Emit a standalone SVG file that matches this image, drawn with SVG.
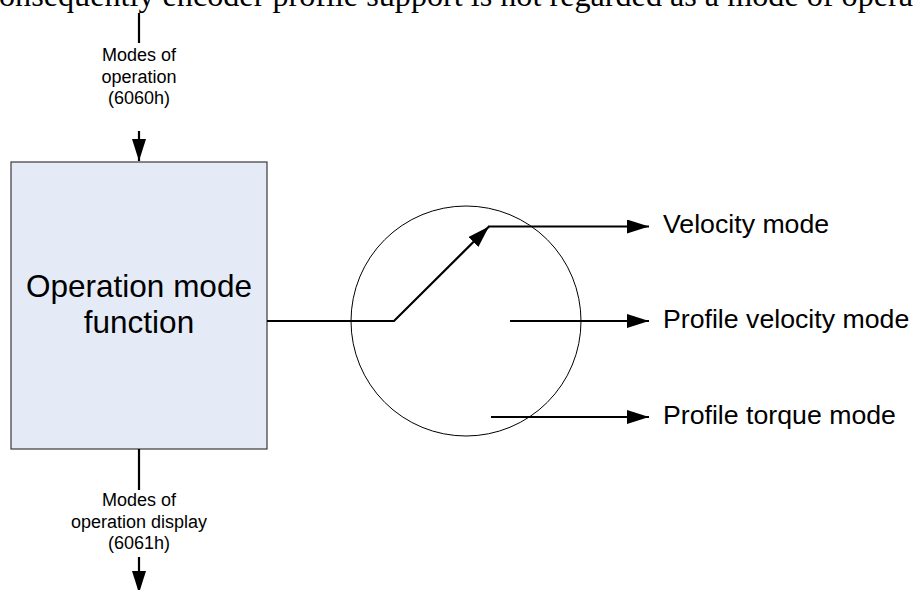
<svg xmlns="http://www.w3.org/2000/svg" width="913" height="590" viewBox="0 0 913 590">
  <style>
    .conn { stroke: #000; stroke-width: 2.2; fill: none; }
    .lbl { font-family: "Liberation Sans", Arial, sans-serif; fill: #000; }
    .small { font-size: 18px; text-anchor: middle; }
    .mode { font-size: 26.7px; }
    .big { font-size: 31.5px; text-anchor: middle; }
  </style>
  <defs>
    <marker id="arrow" markerUnits="userSpaceOnUse" markerWidth="24" markerHeight="16" refX="22" refY="7" orient="auto">
      <path d="M0,0 L22,7 L0,14 Z" fill="#000"/>
    </marker>
  </defs>
  <rect width="913" height="590" fill="#fff"/>

  <text x="-1" y="6" font-family="'Liberation Serif', 'Times New Roman', serif" font-size="32" textLength="914" lengthAdjust="spacingAndGlyphs">onsequently encoder profile support is not regarded as a mode of opera</text>

  <g id="node-operation-mode-function">
    <rect x="11" y="162" width="256" height="287" fill="#E5EBF6" stroke="#3a3a3a" stroke-width="1.2"/>
    <text class="lbl big" x="139" y="297">Operation mode</text>
    <text class="lbl big" x="139" y="333">function</text>
  </g>

  <g id="node-switch">
    <circle cx="466" cy="321" r="115" fill="none" stroke="#000" stroke-width="1"/>
  </g>

  <g id="node-velocity-mode">
    <text class="lbl mode" x="663" y="233">Velocity mode</text>
  </g>
  <g id="node-profile-velocity-mode">
    <text class="lbl mode" x="663" y="328">Profile velocity mode</text>
  </g>
  <g id="node-profile-torque-mode">
    <text class="lbl mode" x="663" y="424">Profile torque mode</text>
  </g>

  <g id="connectors">
    <line class="conn" x1="139" y1="13" x2="139" y2="43"/>
    <line class="conn" x1="139" y1="131" x2="139" y2="161" marker-end="url(#arrow)"/>
    <line class="conn" x1="139" y1="449" x2="139" y2="490"/>
    <line class="conn" x1="139" y1="557" x2="139" y2="593" marker-end="url(#arrow)"/>
    <polyline class="conn" points="267,321 394,321 489,226.5" marker-end="url(#arrow)"/>
    <line class="conn" x1="488" y1="226.5" x2="649" y2="226.5" marker-end="url(#arrow)"/>
    <line class="conn" x1="510" y1="321" x2="649" y2="321" marker-end="url(#arrow)"/>
    <line class="conn" x1="491" y1="417" x2="649" y2="417" marker-end="url(#arrow)"/>
  </g>

  <g id="label-modes-of-operation">
    <text class="lbl small" x="139" y="61">Modes of</text>
    <text class="lbl small" x="139" y="82.5">operation</text>
    <text class="lbl small" x="139" y="104">(6060h)</text>
  </g>
  <g id="label-modes-of-operation-display">
    <text class="lbl small" x="139" y="506">Modes of</text>
    <text class="lbl small" x="139" y="528">operation display</text>
    <text class="lbl small" x="139" y="549">(6061h)</text>
  </g>
</svg>
